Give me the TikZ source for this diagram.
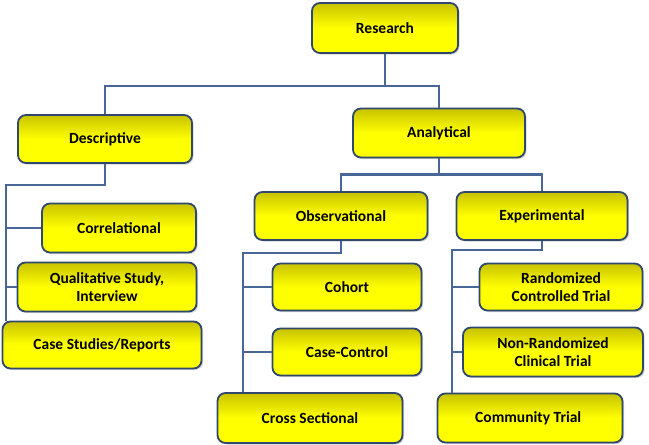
\documentclass[tikz,border=0pt]{standalone}
\usepackage{fontspec}
\setmainfont{Carlito}
\usetikzlibrary{shadows}

\definecolor{boxline}{RGB}{48,72,108}
\definecolor{linkcol}{RGB}{72,102,150}
\definecolor{boxtop}{RGB}{200,195,0}
\definecolor{boxmid}{RGB}{255,255,0}

\tikzset{
  box/.style={draw=boxline, line width=1.8pt, rounded corners=8pt,
    top color=boxtop, bottom color=boxmid, middle color=boxmid,
    drop shadow={shadow xshift=1.5pt, shadow yshift=-1.5pt, opacity=0.35},
    align=center, font=\fontsize{15.5}{18}\selectfont\bfseries, inner sep=0pt},
  link/.style={draw=linkcol, line width=2.8pt}
}

\begin{document}
\begin{tikzpicture}[x=1pt, y=-1pt]
\useasboundingbox[fill=white] (0,0) rectangle (649,445);

% Boxes (name, centre, width, height, text)
\foreach \n/\x/\y/\w/\h/\t in {
  res/385/28/146/50/Research,
  desc/105/139/174/48/Descriptive,
  ana/439/133/172/49/Analytical,
  corr/119/228/154/49/Correlational,
  qual/107/287/179/49/{Qualitative Study,\\Interview},
  case/102/345/199/47/{Case Studies/Reports},
  obs/341/216/173/48/Observational,
  coh/347/287/149/47/Cohort,
  cc/347/352/149/47/Case-Control,
  cross/310/418/185/50/Cross Sectional,
  exp/542/216/171/48/Experimental,
  rct/561/287/163/47/{Randomized\\Controlled Trial},
  nrct/553/352/180/49/{Non-Randomized\\Clinical Trial},
  comm/530/418/185/49/Community Trial
} {
  \node[box, minimum width=\w pt, minimum height=\h pt] (\n) at (\x,\y) {\t};
}

% trunk corners
\coordinate (dtrunk) at (6,185);
\coordinate (otrunk) at (243,253);
\coordinate (etrunk) at (452,250);

% Connectors
\draw[link] (res.south) -- ++(0,32) -| (desc.north);
\draw[link] (res.south) -- ++(0,32) -| (ana.north);
\draw[link] (ana.south) -- ++(0,16) -| (obs.north);
\draw[link] (ana.south) -- ++(0,16) -| (exp.north);

\draw[link] (desc.south) |- (dtrunk) -- (dtrunk |- case.north);
\draw[link] (dtrunk |- corr) -- (corr.west);
\draw[link] (dtrunk |- qual) -- (qual.west);

\draw[link] (obs.south) |- (otrunk) -- (otrunk |- cross.north);
\draw[link] (otrunk |- coh) -- (coh.west);
\draw[link] (otrunk |- cc) -- (cc.west);

\draw[link] (exp.south) |- (etrunk) -- (etrunk |- comm.north);
\draw[link] (etrunk |- rct) -- (rct.west);
\draw[link] (etrunk |- nrct) -- (nrct.west);
\end{tikzpicture}
\end{document}
